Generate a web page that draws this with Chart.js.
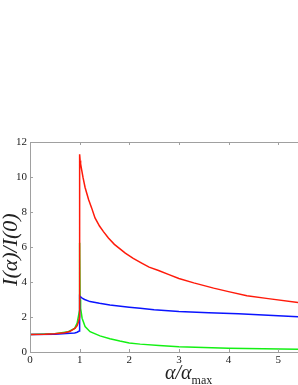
<!DOCTYPE html>
<html>
<head>
<meta charset="utf-8">
<script src="https://cdn.jsdelivr.net/npm/chart.js@4.4.1/dist/chart.umd.min.js"></script>
<style>
  html, body { margin: 0; padding: 0; background: #fff; }
  #wrap { width: 298px; height: 385px; }
</style>
</head>
<body>
<div id="wrap"><canvas id="chart"></canvas></div>
<script>
// values
var alphaRed = [0, 0.3, 0.5, 0.7, 0.8, 0.91, 0.95, 0.98, 1.0, 1.0, 1.01, 1.02, 1.04, 1.07, 1.11, 1.18, 1.24, 1.31, 1.4, 1.48, 1.58, 1.7, 1.92, 2.08, 2.25, 2.4, 2.59, 2.8, 3.0, 3.3, 3.7, 4.0, 4.37, 4.8, 5.4];
var intensityRed = [1.0, 1.01, 1.04, 1.1, 1.17, 1.36, 1.5, 1.75, 2.0, 11.3, 10.95, 10.75, 10.42, 9.95, 9.4, 8.71, 8.25, 7.66, 7.2, 6.88, 6.51, 6.15, 5.65, 5.35, 5.08, 4.85, 4.66, 4.42, 4.2, 3.95, 3.65, 3.45, 3.21, 3.05, 2.83];

var alphaBlue = [0, 0.5, 0.81, 0.9, 0.95, 0.99, 1.0, 1.0, 1.05, 1.1, 1.21, 1.4, 1.61, 2.0, 2.22, 2.5, 3.0, 3.6, 4.2, 4.8, 5.4];
var intensityBlue = [1.0, 1.02, 1.07, 1.09, 1.13, 1.2, 1.25, 3.2, 3.08, 3.0, 2.88, 2.78, 2.69, 2.56, 2.5, 2.42, 2.31, 2.24, 2.18, 2.1, 2.02];

var alphaGreen = [0, 0.5, 0.77, 0.9, 0.95, 0.98, 1.0, 1.0, 1.01, 1.02, 1.05, 1.11, 1.21, 1.41, 1.61, 1.81, 2.0, 2.22, 2.6, 3.0, 3.5, 4.0, 4.7, 5.4];
var intensityGreen = [1.0, 1.05, 1.16, 1.35, 1.65, 2.1, 2.4, 6.24, 3.0, 2.5, 1.93, 1.45, 1.16, 0.92, 0.76, 0.63, 0.52, 0.45, 0.37, 0.3, 0.26, 0.22, 0.18, 0.15];

var xTicks = [0, 1, 2, 3, 4, 5];
var yTicks = [0, 2, 4, 6, 8, 10, 12];

function pts(xs, ys) {
  return xs.map((x, i) => ({x: x, y: ys[i]}));
}

var serif = "'Liberation Serif', 'DejaVu Serif', serif";
var frameColor = "#a0a0a0";

// frame with inward ticks + axis titles (subscript needs manual drawing)
var framePlugin = {
  id: "frame",
  afterDraw(chart) {
    var ctx = chart.ctx, a = chart.chartArea;
    var xs = chart.scales.x, ys = chart.scales.y;
    ctx.save();
    ctx.strokeStyle = frameColor;
    ctx.lineWidth = 1;
    ctx.beginPath();
    ctx.moveTo(a.left + 0.5, a.bottom + 0.5);
    ctx.lineTo(a.left + 0.5, a.top + 0.5);
    ctx.lineTo(a.right, a.top + 0.5);
    ctx.moveTo(a.left + 0.5, a.bottom + 0.5);
    ctx.lineTo(a.right, a.bottom + 0.5);
    xTicks.forEach(v => {
      var p = Math.round(xs.getPixelForValue(v)) + 0.5;
      ctx.moveTo(p, a.bottom); ctx.lineTo(p, a.bottom - 3);
      ctx.moveTo(p, a.top); ctx.lineTo(p, a.top + 3);
    });
    yTicks.forEach(v => {
      var p = Math.round(ys.getPixelForValue(v)) + 0.5;
      ctx.moveTo(a.left, p); ctx.lineTo(a.left + 3, p);
    });
    ctx.stroke();

    ctx.fillStyle = "#222";
    // y title
    ctx.save();
    ctx.translate(11, ys.getPixelForValue(5.85));
    ctx.rotate(-Math.PI / 2);
    ctx.font = "italic 22px " + serif;
    ctx.textAlign = "center";
    ctx.textBaseline = "middle";
    ctx.fillText("I(α)/I(0)", 0, 0);
    ctx.restore();

    // x title
    var x0 = xs.getPixelForValue(2.72);
    var base = 379;
    ctx.font = "italic 20px " + serif;
    ctx.textAlign = "left";
    ctx.textBaseline = "alphabetic";
    ctx.fillText("α/α", x0, base);
    var w = ctx.measureText("α/α").width;
    ctx.font = "12px " + serif;
    ctx.fillText("max", x0 + w, base + 5);
    ctx.restore();
  }
};

function line(label, xs, ys, color) {
  return {
    label: label,
    data: pts(xs, ys),
    showLine: true,
    borderColor: color,
    backgroundColor: color,
    borderWidth: 1.5,
    pointRadius: 0,
    tension: 0,
    fill: false
  };
}

new Chart(document.getElementById("chart"), {
  type: "scatter",
  data: {
    datasets: [
      line("red", alphaRed, intensityRed, "#ff1a0a"),
      line("blue", alphaBlue, intensityBlue, "#0a14ff"),
      line("green", alphaGreen, intensityGreen, "#14f014")
    ]
  },
  options: {
    responsive: true,
    maintainAspectRatio: false,
    animation: false,
    layout: { padding: { top: 142, left: 0, right: 0, bottom: 0 } },
    plugins: { legend: { display: false }, tooltip: { enabled: false } },
    scales: {
      x: {
        type: "linear",
        min: 0, max: 5.4,
        afterFit: s => { s.height = 33; },
        afterBuildTicks: s => { s.ticks = xTicks.map(v => ({value: v})); },
        grid: { display: false, drawTicks: false },
        border: { display: false },
        ticks: { padding: 2, color: "#222", font: { family: serif, size: 11 } }
      },
      y: {
        type: "linear",
        min: 0, max: 12,
        afterFit: s => { s.width = 30; },
        afterBuildTicks: s => { s.ticks = yTicks.map(v => ({value: v})); },
        grid: { display: false, drawTicks: false },
        border: { display: false },
        ticks: { padding: 3, color: "#222", font: { family: serif, size: 11 } }
      }
    }
  },
  plugins: [framePlugin]
});
</script>
</body>
</html>
